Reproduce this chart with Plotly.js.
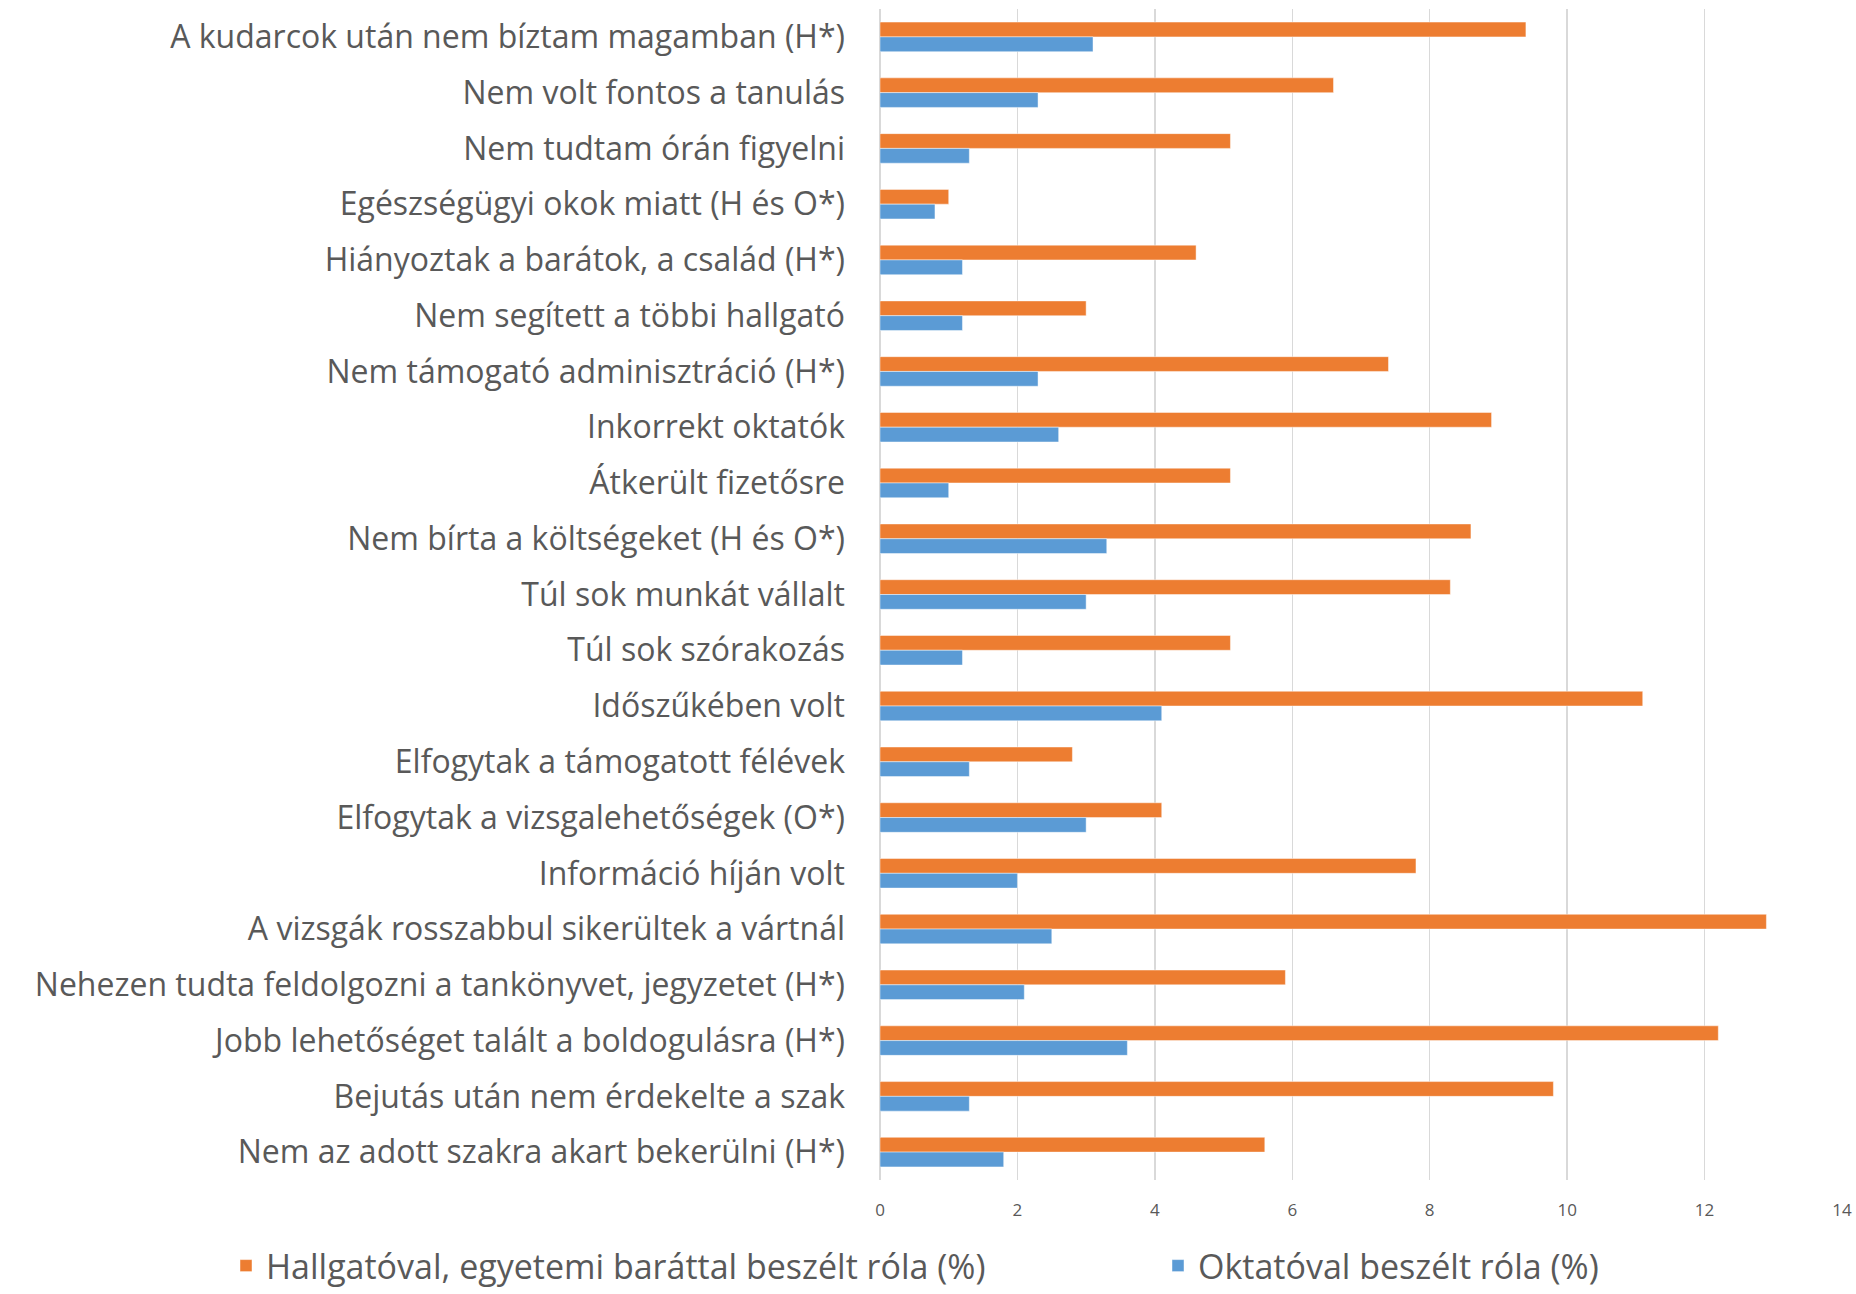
<!DOCTYPE html>
<html>
<head>
<meta charset="utf-8">
<script src="https://cdn.plot.ly/plotly-3.0.1.min.js"></script>
<style>html,body{margin:0;padding:0;background:#fff;}#chart{width:1856px;height:1294px;}</style>
</head>
<body>
<div id="chart"></div>
<script>
const categories = [
  "A kudarcok után nem bíztam magamban (H*)",
  "Nem volt fontos a tanulás",
  "Nem tudtam órán figyelni",
  "Egészségügyi okok miatt (H és O*)",
  "Hiányoztak a barátok, a család (H*)",
  "Nem segített a többi hallgató",
  "Nem támogató adminisztráció (H*)",
  "Inkorrekt oktatók",
  "Átkerült fizetősre",
  "Nem bírta a költségeket (H és O*)",
  "Túl sok munkát vállalt",
  "Túl sok szórakozás",
  "Időszűkében volt",
  "Elfogytak a támogatott félévek",
  "Elfogytak a vizsgalehetőségek (O*)",
  "Információ híján volt",
  "A vizsgák rosszabbul sikerültek a vártnál",
  "Nehezen tudta feldolgozni a tankönyvet, jegyzetet (H*)",
  "Jobb lehetőséget talált a boldogulásra (H*)",
  "Bejutás után nem érdekelte a szak",
  "Nem az adott szakra akart bekerülni (H*)"
];
const hallgatoval = [9.4, 6.6, 5.1, 1.0, 4.6, 3.0, 7.4, 8.9, 5.1, 8.6, 8.3, 5.1, 11.1, 2.8, 4.1, 7.8, 12.9, 5.9, 12.2, 9.8, 5.6];
const oktatoval   = [3.1, 2.3, 1.3, 0.8, 1.2, 1.2, 2.3, 2.6, 1.0, 3.3, 3.0, 1.2, 4.1, 1.3, 3.0, 2.0, 2.5, 2.1, 3.6, 1.3, 1.8];
const seriesNames = ["Hallgatóval, egyetemi baráttal beszélt róla (%)", "Oktatóval beszélt róla (%)"];
const xTicks = [0, 2, 4, 6, 8, 10, 12, 14];

const FONT = "Open Sans, Liberation Sans, sans-serif";
const traces = [
  {type: "bar", orientation: "h", name: seriesNames[0], y: categories, x: hallgatoval, legend: "legend",
   marker: {color: "#ED7D31", line: {color: "rgba(255,255,255,0.45)", width: 1}}, hoverinfo: "x+y"},
  {type: "bar", orientation: "h", name: seriesNames[1], y: categories, x: oktatoval, legend: "legend2",
   marker: {color: "#5B9BD5", line: {color: "rgba(255,255,255,0.45)", width: 1}}, hoverinfo: "x+y"}
];
const legendBase = {orientation: "h", xref: "container", yref: "container", xanchor: "left", y: 1 - 1266 / 1294, yanchor: "middle",
  font: {size: 34, color: "#595959", family: FONT}, itemwidth: 30, bgcolor: "rgba(0,0,0,0)"};
const layout = {
  width: 1856, height: 1294,
  margin: {l: 880, r: 14, t: 9, b: 114},
  paper_bgcolor: "#fff", plot_bgcolor: "#fff",
  barmode: "group", bargap: 0.47, bargroupgap: 0,
  font: {family: FONT, color: "#595959"},
  xaxis: {range: [0, 14], tickvals: xTicks, ticktext: xTicks.map(String),
          showgrid: true, gridcolor: "#D9D9D9", gridwidth: 1.5, zeroline: true, zerolinecolor: "#D9D9D9", zerolinewidth: 1.5,
          showline: false, ticks: "", tickfont: {size: 17, color: "#595959", family: FONT}, ticklabelstandoff: 18, fixedrange: true},
  yaxis: {type: "category", autorange: "reversed", showgrid: false, zeroline: false, showline: false, ticks: "",
          tickfont: {size: 32, color: "#595959", family: FONT}, ticklabelstandoff: 34, fixedrange: true},
  showlegend: true,
  legend: Object.assign({}, legendBase, {x: 226 / 1856}),
  legend2: Object.assign({}, legendBase, {x: 1158 / 1856})
};
Plotly.newPlot("chart", traces, layout, {displayModeBar: false, staticPlot: true});
</script>
</body>
</html>
